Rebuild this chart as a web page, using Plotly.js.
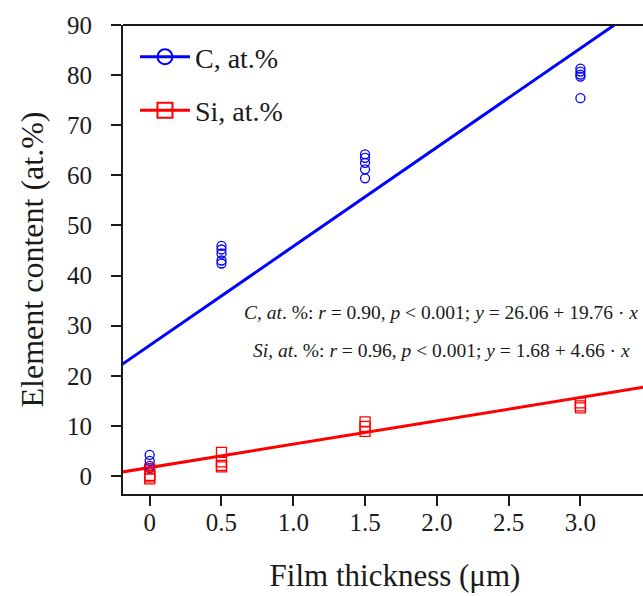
<!DOCTYPE html>
<html>
<head>
<meta charset="utf-8">
<script src="https://cdn.plot.ly/plotly-3.0.1.min.js"></script>
<style>html,body{margin:0;padding:0;overflow:hidden;background:#fff;width:643px;height:596px;}</style>
</head>
<body>
<div id="chart" style="width:667px;height:596px;"></div>
<script>
// Measured points (film thickness in µm, element content in at.%)
const cX = [0, 0, 0, 0, 0.5, 0.5, 0.5, 0.5, 0.5, 1.5, 1.5, 1.5, 1.5, 1.5, 3.0, 3.0, 3.0, 3.0, 3.0];
const cY = [4.2, 3.0, 2.0, 1.6, 45.9, 45.2, 44.4, 43.0, 42.4, 64.2, 63.5, 62.5, 61.2, 59.4, 81.3, 80.7, 80.1, 79.7, 75.4];
const siX = [0, 0, 0, 0, 0.5, 0.5, 0.5, 0.5, 1.5, 1.5, 1.5, 3.0, 3.0, 3.0];
const siY = [1.4, 0.1, -0.6, -0.2, 4.7, 2.8, 2.1, 1.8, 10.8, 9.9, 8.9, 14.6, 14.0, 13.6];
// Regression coefficients printed on the chart: [intercept, slope]
const cFit = [26.06, 19.76];
const siFit = [1.68, 4.66];
const fitX = [-0.5, 4.2];
const xTickVals = [0, 0.5, 1.0, 1.5, 2.0, 2.5, 3.0];
const xTickText = ["0", "0.5", "1.0", "1.5", "2.0", "2.5", "3.0"];
const yTickVals = [0, 10, 20, 30, 40, 50, 60, 70, 80, 90];

const serif = "Liberation Serif, Times New Roman, serif";
const blue = "#0000ff", red = "#ff0000";
const ink = "#1a1a1a";

const traces = [
  {x: fitX, y: fitX.map(v => cFit[0] + cFit[1] * v), mode: "lines+markers", name: "C, at.%",
   line: {color: blue, width: 3}, legendgroup: "c",
   marker: {symbol: "circle-open", size: 15, color: blue, line: {width: 2, color: blue}}, hoverinfo: "skip"},
  {x: fitX, y: fitX.map(v => siFit[0] + siFit[1] * v), mode: "lines+markers", name: "Si, at.%",
   line: {color: red, width: 3}, legendgroup: "si",
   marker: {symbol: "square-open", size: 15, color: red, line: {width: 2, color: red}}, hoverinfo: "skip"},
  {x: cX, y: cY, mode: "markers", showlegend: false,
   marker: {symbol: "circle-open", size: 9, color: blue, line: {width: 1.3, color: blue}}},
  {x: siX, y: siY, mode: "markers", showlegend: false,
   marker: {symbol: "square-open", size: 10, color: red, line: {width: 1.3, color: red}}}
];

const layout = {
  width: 667, height: 596,
  margin: {l: 123, r: 0, t: 25, b: 102},
  paper_bgcolor: "#fff", plot_bgcolor: "#fff",
  font: {family: serif, color: ink, size: 20},
  showlegend: true,
  legend: {x: 0.022, y: 0.985, xanchor: "left", yanchor: "top", bgcolor: "rgba(0,0,0,0)",
           font: {family: serif, size: 28, color: ink}, traceorder: "grouped", tracegroupgap: 14,
           itemwidth: 50},
  xaxis: {range: [-0.186, 3.603], tickvals: xTickVals, ticktext: xTickText,
          showgrid: false, zeroline: false, showline: true, linecolor: ink, linewidth: 2,
          ticks: "outside", ticklen: 10, tickwidth: 2, tickcolor: ink,
          tickfont: {family: serif, size: 25, color: ink}, ticklabelstandoff: -5,
          title: {text: "Film thickness (μm)", font: {family: serif, size: 31, color: ink}, standoff: 29}},
  yaxis: {range: [-3.6, 90], tickvals: yTickVals,
          showgrid: false, zeroline: false, showline: true, linecolor: ink, linewidth: 2,
          ticks: "outside", ticklen: 10, tickwidth: 2, tickcolor: ink,
          tickfont: {family: serif, size: 25, color: ink}, ticklabelstandoff: 14,
          title: {text: "Element content (at.%)", font: {family: serif, size: 32, color: ink}, standoff: 14}},
  shapes: [
    {type: "line", xref: "paper", yref: "paper", x0: 0, x1: 1, y0: 1, y1: 1, line: {color: ink, width: 2}}
  ],
  annotations: [
    {xref: "x", yref: "y", x: 2.03, y: 32.6, showarrow: false, xanchor: "center", yanchor: "middle",
     text: "<i>C</i>, <i>at</i>. %: <i>r</i> = 0.90, <i>p</i> < 0.001; <i>y</i> = 26.06 + 19.76 · <i>x</i>",
     font: {family: serif, size: 19.5, color: ink}},
    {xref: "x", yref: "y", x: 2.03, y: 25.0, showarrow: false, xanchor: "center", yanchor: "middle",
     text: "<i>Si</i>, <i>at</i>. %: <i>r</i> = 0.96, <i>p</i> < 0.001; <i>y</i> = 1.68 + 4.66 · <i>x</i>",
     font: {family: serif, size: 19.5, color: ink}}
  ]
};

Plotly.newPlot("chart", traces, layout, {displayModeBar: false, staticPlot: true});
</script>
</body>
</html>
